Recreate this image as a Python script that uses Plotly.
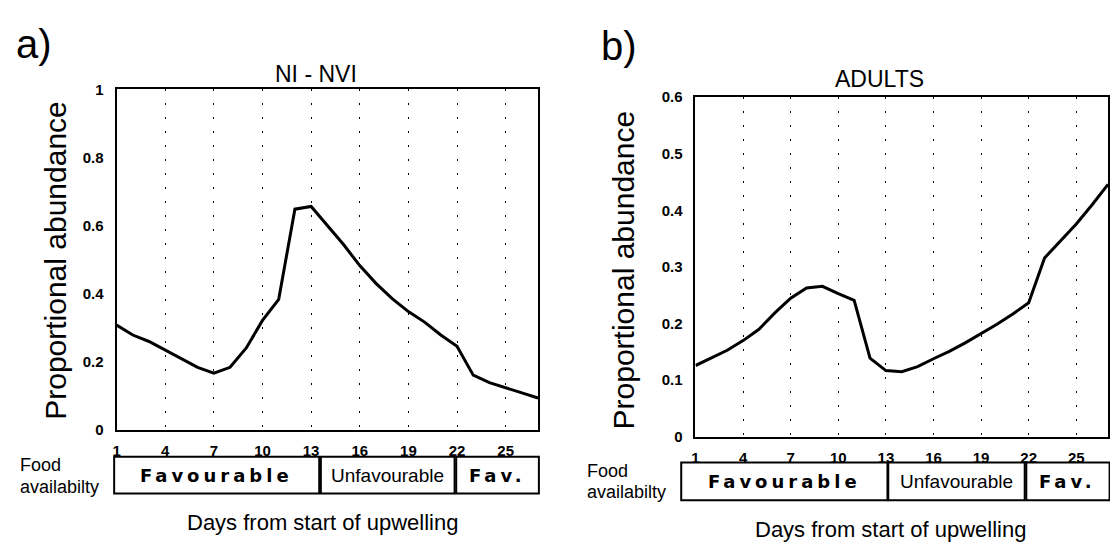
import plotly.graph_objects as go

# ---------------- data ----------------
days = list(range(1, 28))
nauplii = [0.307, 0.278, 0.259, 0.233, 0.207, 0.183, 0.166, 0.183, 0.240, 0.321,
           0.383, 0.648, 0.656, 0.601, 0.544, 0.482, 0.430, 0.385, 0.347, 0.316,
           0.278, 0.245, 0.160, 0.138, 0.122, 0.108, 0.093]
adults = [0.126, 0.139, 0.153, 0.170, 0.190, 0.219, 0.245, 0.263, 0.266, 0.253,
          0.241, 0.139, 0.117, 0.115, 0.124, 0.138, 0.151, 0.166, 0.182, 0.199,
          0.217, 0.237, 0.316, 0.346, 0.376, 0.410, 0.446]
x_ticks = [1, 4, 7, 10, 13, 16, 19, 22, 25]
ya_ticks = [0, 0.2, 0.4, 0.6, 0.8, 1]
ya_labels = ["0", "0.2", "0.4", "0.6", "0.8", "1"]
yb_ticks = [0, 0.1, 0.2, 0.3, 0.4, 0.5, 0.6]
yb_labels = ["0", "0.1", "0.2", "0.3", "0.4", "0.5", "0.6"]
# food availability periods (start day, end day, label, bold)
food_a = [(0.85, 13.5, "Favourable", True), (13.6, 21.85, "Unfavourable", False), (21.95, 27.05, "Fav.", True)]
food_b = [(0.1, 13.1, "Favourable", True), (13.15, 21.75, "Unfavourable", False), (21.85, 27.1, "Fav.", True)]

XMIN, XMAX = 1, 27
W, H = 1110, 550
def px(x):
    return x / W
def py(y):
    return 1 - y / H
def xdom(day):
    return (day - XMIN) / (XMAX - XMIN)

FONT = "Liberation Sans, Arial, sans-serif"
BOLDF = "DejaVu Sans, sans-serif"

fig = go.Figure()
fig.add_trace(go.Scatter(x=days, y=nauplii, mode="lines", line=dict(color="black", width=3),
                         xaxis="x", yaxis="y", showlegend=False))
fig.add_trace(go.Scatter(x=days, y=adults, mode="lines", line=dict(color="black", width=3),
                         xaxis="x2", yaxis="y2", showlegend=False))

xcommon = dict(range=[XMIN, XMAX], tickvals=x_ticks, ticktext=[str(v) for v in x_ticks],
               showgrid=True, gridcolor="black", gridwidth=1.4, griddash="2px,12px",
               showline=True, linecolor="black", linewidth=2, mirror=True,
               ticks="", zeroline=False, ticklabelstandoff=6,
               tickfont=dict(family=FONT, size=15, color="black", weight="bold"))
ycommon = dict(showgrid=False, showline=True, linecolor="black", linewidth=2, mirror=True,
               ticks="", zeroline=False, ticklabelstandoff=8,
               tickfont=dict(family=FONT, size=15, color="black", weight="bold"))

fig.update_layout(
    width=W, height=H, margin=dict(l=0, r=0, t=0, b=0),
    paper_bgcolor="white", plot_bgcolor="white",
    xaxis=dict(domain=[px(113), px(536)], anchor="y", **xcommon),
    yaxis=dict(domain=[py(434), py(83)], anchor="x", range=[0, 1],
               tickvals=ya_ticks, ticktext=ya_labels, **ycommon),
    xaxis2=dict(domain=[px(694), px(1108)], anchor="y2", **xcommon),
    yaxis2=dict(domain=[py(441.5), py(91)], anchor="x2", range=[0, 0.6],
                tickvals=yb_ticks, ticktext=yb_labels, **ycommon),
)

ann = []
def text(x, y, s, size, family=FONT, xanchor="center", angle=0, bold=False):
    ann.append(dict(x=px(x), y=py(y), xref="paper", yref="paper", text=s, showarrow=False,
                    xanchor=xanchor, yanchor="middle", textangle=angle,
                    font=dict(family=family, size=size, color="black",
                              weight="bold" if bold else "normal")))

# panel letters and titles
text(30, 36, "a)", 40)
text(617, 38, "b)", 40)
text(313, 67, "NI - NVI", 23)
text(879, 72, "ADULTS", 23)
# y-axis titles
text(52, 259, "Proportional abundance", 30, angle=-90)
text(622, 269, "Proportional abundance", 30, angle=-90)
# x-axis titles
text(320, 530, "Days from start of upwelling", 22)
text(890, 537, "Days from start of upwelling", 22)
# food availability labels
text(14, 471, "Food", 18, xanchor="left")
text(14, 493, "availabilty", 18, xanchor="left")
text(583, 477, "Food", 18, xanchor="left")
text(583, 498, "availabilty", 18, xanchor="left")

shapes = []
def boxes(periods, xref, y0, y1):
    dref = xref + " domain"
    for (a, b, lab, bold) in periods:
        shapes.append(dict(type="rect", xref=dref, yref="paper", x0=xdom(a), x1=xdom(b),
                           y0=py(y1), y1=py(y0), line=dict(color="black", width=2),
                           fillcolor="white"))
        xc = xdom((a + b) / 2)
        if bold:
            s = '<span style="letter-spacing:4px">' + lab + '</span>'
            ann.append(dict(x=xc, y=py((y0 + y1) / 2), xref=dref, yref="paper", text=s,
                            showarrow=False, xanchor="center", yanchor="middle",
                            font=dict(family=BOLDF, size=18, color="black", weight="bold")))
        else:
            ann.append(dict(x=xc, y=py((y0 + y1) / 2), xref=dref, yref="paper", text=lab,
                            showarrow=False, xanchor="center", yanchor="middle",
                            font=dict(family=FONT, size=19, color="black")))

boxes(food_a, "x", 462, 500)
boxes(food_b, "x2", 468, 507)

fig.update_layout(annotations=ann, shapes=shapes)
fig.write_html("out.html")
